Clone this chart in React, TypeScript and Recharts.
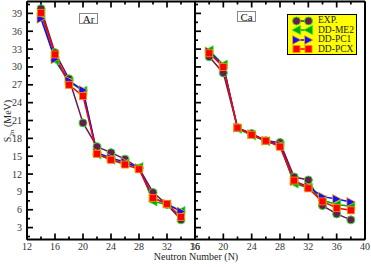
import { LineChart, Line, XAxis, YAxis } from 'recharts'

// neutron numbers
const arN = [14, 16, 18, 20, 22, 24, 26, 28, 30, 32, 34]
const caN = [18, 20, 22, 24, 26, 28, 30, 32, 34, 36, 38]

// S2n (MeV), Ar isotopes
const arExp = [39.8, 32.4, 28.0, 20.6, 16.6, 15.6, 14.5, 13.0, 8.9, 6.9, 4.3]
const arMe2 = [39.0, 31.1, 27.5, 26.0, 15.3, 14.4, 13.8, 13.2, 7.4, 6.9, 5.8]
const arPc1 = [38.1, 31.3, 27.7, 26.1, 15.6, 14.7, 14.0, 13.0, 8.0, 7.0, 5.7]
const arPcx = [39.1, 32.1, 27.0, 25.1, 15.4, 14.4, 13.6, 12.8, 8.0, 7.0, 4.8]

// S2n (MeV), Ca isotopes
const caExp = [31.7, 29.0, 19.8, 18.8, 17.6, 17.3, 11.5, 11.0, 6.7, 5.3, 4.3]
const caMe2 = [32.8, 30.4, 19.6, 18.5, 17.5, 16.8, 10.4, 9.7, 7.6, 6.9, 6.6]
const caPc1 = [32.6, 30.2, 19.8, 18.7, 17.6, 16.9, 10.8, 9.9, 8.2, 7.8, 7.3]
const caPcx = [32.3, 30.0, 19.8, 18.6, 17.6, 16.6, 10.9, 9.6, 7.4, 6.3, 5.9]

const yTicks = [1.5, 3, 4.5, 6, 7.5, 9, 10.5, 12, 13.5, 15, 16.5, 18, 19.5, 21, 22.5, 24, 25.5, 27, 28.5, 30, 31.5, 33, 34.5, 36, 37.5, 39, 40.5]
const arXTicks = [12, 14, 16, 18, 20, 22, 24, 26, 28, 30, 32, 34, 36]
const caXTicks = [16, 18, 20, 22, 24, 26, 28, 30, 32, 34, 36, 38, 40]

const FONT = '"Liberation Serif", "DejaVu Serif", serif'
const AXIS = { stroke: '#000', strokeWidth: 2 }
const HIDDEN_TICK = { stroke: 'none' }
const TS = 6 // recharts tickSize; custom ticks are drawn from the axis line

const series = [
  { key: 'exp', name: 'EXP.', color: '#6b1a4f', shape: 'circle' },
  { key: 'me2', name: 'DD-ME2', color: '#00a800', shape: 'left' },
  { key: 'pc1', name: 'DD-PC1', color: '#1010ff', shape: 'right' },
  { key: 'pcx', name: 'DD-PCX', color: '#ff0000', shape: 'square' },
]

function Marker({ cx, cy, shape }: { cx: number; cy: number; shape: string }) {
  if (cx == null || cy == null) return null
  if (shape === 'circle')
    return <circle cx={cx} cy={cy} r={4} fill="#6b1a4f" stroke="#2ee02e" strokeWidth={1} />
  if (shape === 'left')
    return (
      <polygon
        points={`${cx - 4.5},${cy} ${cx + 4},${cy - 4.5} ${cx + 4},${cy + 4.5}`}
        fill="#00a800"
        stroke="#40e040"
        strokeWidth={0.8}
      />
    )
  if (shape === 'right')
    return (
      <polygon
        points={`${cx + 4.5},${cy} ${cx - 4},${cy - 4.5} ${cx - 4},${cy + 4.5}`}
        fill="#1010ff"
        stroke="#ffa500"
        strokeWidth={0.8}
      />
    )
  return <rect x={cx - 3.5} y={cy - 3.5} width={7} height={7} fill="#ff0000" stroke="#ff8c00" strokeWidth={0.8} />
}

// ticks point into the frame, labels only on the major ones
function makeYTick(side: 'left' | 'right', labels: boolean) {
  return (p: any) => {
    const v = p.payload.value
    const major = Math.abs(v / 3 - Math.round(v / 3)) < 1e-6
    const len = major ? 6 : 3
    const dir = side === 'left' ? 1 : -1
    const x0 = p.x + TS
    return (
      <g>
        <path d={`M${x0},${p.y}H${x0 + dir * len}`} stroke="#000" strokeWidth={1.7} />
        {labels && major && (
          <text x={x0 - 5} y={p.y + 3.5} textAnchor="end" fontSize={10} fontFamily={FONT} fill="#333">
            {v}
          </text>
        )}
      </g>
    )
  }
}

function makeXTick(side: 'top' | 'bottom', labels: boolean) {
  return (p: any) => {
    const v = p.payload.value
    const major = v % 4 === 0
    const len = major ? 6 : 3
    const dir = side === 'top' ? 1 : -1
    const y0 = p.y - TS
    return (
      <g>
        <path d={`M${p.x},${y0}V${y0 + dir * len}`} stroke="#000" strokeWidth={1.7} />
        {labels && major && (
          <text x={p.x} y={y0 + 10} textAnchor="middle" fontSize={10} fontFamily={FONT} fill="#333">
            {v}
          </text>
        )}
      </g>
    )
  }
}

function Panel(props: {
  n: number[]
  exp: number[]
  me2: number[]
  pc1: number[]
  pcx: number[]
  xDomain: [number, number]
  xTicks: number[]
  yLabels: boolean
  width: number
  leftWidth: number
  leftMargin: number
  rightMargin: number
}) {
  const data = props.n.map((N, i) => ({
    N,
    exp: props.exp[i],
    me2: props.me2[i],
    pc1: props.pc1[i],
    pcx: props.pcx[i],
  }))
  return (
    <LineChart
      width={props.width}
      height={267}
      data={data}
      margin={{ top: 1.5, left: props.leftMargin, right: props.rightMargin, bottom: 7.5 }}
    >
      <XAxis
        xAxisId="b"
        dataKey="N"
        type="number"
        domain={props.xDomain}
        ticks={props.xTicks}
        interval={0}
        height={20}
        tickSize={TS}
        tickMargin={0}
        tickLine={HIDDEN_TICK}
        tick={makeXTick('bottom', true)}
        axisLine={AXIS}
      />
      <XAxis
        xAxisId="t"
        orientation="top"
        mirror
        dataKey="N"
        type="number"
        domain={props.xDomain}
        ticks={props.xTicks}
        interval={0}
        tickSize={TS}
        tickMargin={0}
        tickLine={HIDDEN_TICK}
        tick={makeXTick('top', false)}
        axisLine={AXIS}
      />
      <YAxis
        yAxisId="l"
        type="number"
        domain={[1, 41]}
        ticks={yTicks}
        interval={0}
        width={props.leftWidth}
        tickSize={TS}
        tickMargin={0}
        tickLine={HIDDEN_TICK}
        tick={makeYTick('left', props.yLabels)}
        axisLine={AXIS}
      />
      <YAxis
        yAxisId="r"
        orientation="right"
        mirror
        type="number"
        domain={[1, 41]}
        ticks={yTicks}
        interval={0}
        tickSize={TS}
        tickMargin={0}
        tickLine={HIDDEN_TICK}
        tick={makeYTick('right', false)}
        axisLine={AXIS}
      />
      {series.map((s) => (
        <Line
          key={s.key}
          xAxisId="b"
          yAxisId="l"
          dataKey={s.key}
          name={s.name}
          stroke={s.color}
          strokeWidth={1.5}
          isAnimationActive={false}
          dot={(d: any) => <Marker key={d.index} cx={d.cx} cy={d.cy} shape={s.shape} />}
        />
      ))}
    </LineChart>
  )
}

function LegendIcon({ shape, color }: { shape: string; color: string }) {
  return (
    <svg width={21} height={10} style={{ display: 'block', flex: 'none' }}>
      <path d="M4,5H17" stroke={color} strokeWidth={1.5} />
      <Marker cx={4.5} cy={5} shape={shape} />
      <Marker cx={16.5} cy={5} shape={shape} />
    </svg>
  )
}

const boxLabel = (text: string, left: number, top: number) => (
  <div
    style={{
      position: 'absolute',
      left,
      top,
      width: 19,
      height: 11,
      border: '1px solid #888',
      boxSizing: 'border-box',
      fontFamily: FONT,
      fontSize: 11,
      lineHeight: '10px',
      textAlign: 'center',
      color: '#111',
      background: '#fff',
    }}
  >
    {text}
  </div>
)

export default function App() {
  return (
    <div style={{ position: 'absolute', left: 0, top: 0, width: 371, height: 267, background: '#fff', fontFamily: FONT }}>
      <div style={{ position: 'absolute', left: 0, top: 0 }}>
        <Panel
          n={arN}
          exp={arExp}
          me2={arMe2}
          pc1={arPc1}
          pcx={arPcx}
          xDomain={[12, 36]}
          xTicks={arXTicks}
          yLabels={true}
          width={203}
          leftWidth={27}
          leftMargin={0}
          rightMargin={8}
        />
      </div>
      <div style={{ position: 'absolute', left: 187, top: 0 }}>
        <Panel
          n={caN}
          exp={caExp}
          me2={caMe2}
          pc1={caPc1}
          pcx={caPcx}
          xDomain={[16, 40]}
          xTicks={caXTicks}
          yLabels={false}
          width={184}
          leftWidth={1}
          leftMargin={7}
          rightMargin={6}
        />
      </div>
      {boxLabel('Ar', 79, 13)}
      {boxLabel('Ca', 237, 11)}
      <div
        style={{
          position: 'absolute',
          left: 287,
          top: 14,
          width: 70,
          height: 41,
          background: '#ffff00',
          border: '1.5px solid #000',
          boxSizing: 'border-box',
          padding: '1px 0 0 4px',
        }}
      >
        {series.map((s) => (
          <div key={s.key} style={{ display: 'flex', alignItems: 'center', height: 9.5, whiteSpace: 'nowrap' }}>
            <LegendIcon shape={s.shape} color={s.color} />
            <span style={{ fontSize: 9.5, lineHeight: '9px', marginLeft: 5, color: '#222' }}>{s.name}</span>
          </div>
        ))}
      </div>
      <div
        style={{
          position: 'absolute',
          left: 8 - 35,
          top: 121 - 7,
          width: 70,
          height: 14,
          transform: 'rotate(-90deg)',
          textAlign: 'center',
          fontSize: 10,
          lineHeight: '14px',
          color: '#222',
          whiteSpace: 'nowrap',
        }}
      >
        S<sub style={{ fontSize: 7, lineHeight: 0 }}>2n</sub> (MeV)
      </div>
      <div
        style={{
          position: 'absolute',
          left: 196 - 60,
          top: 251,
          width: 120,
          textAlign: 'center',
          fontSize: 10,
          color: '#222',
          whiteSpace: 'nowrap',
        }}
      >
        Neutron Number (N)
      </div>
    </div>
  )
}
